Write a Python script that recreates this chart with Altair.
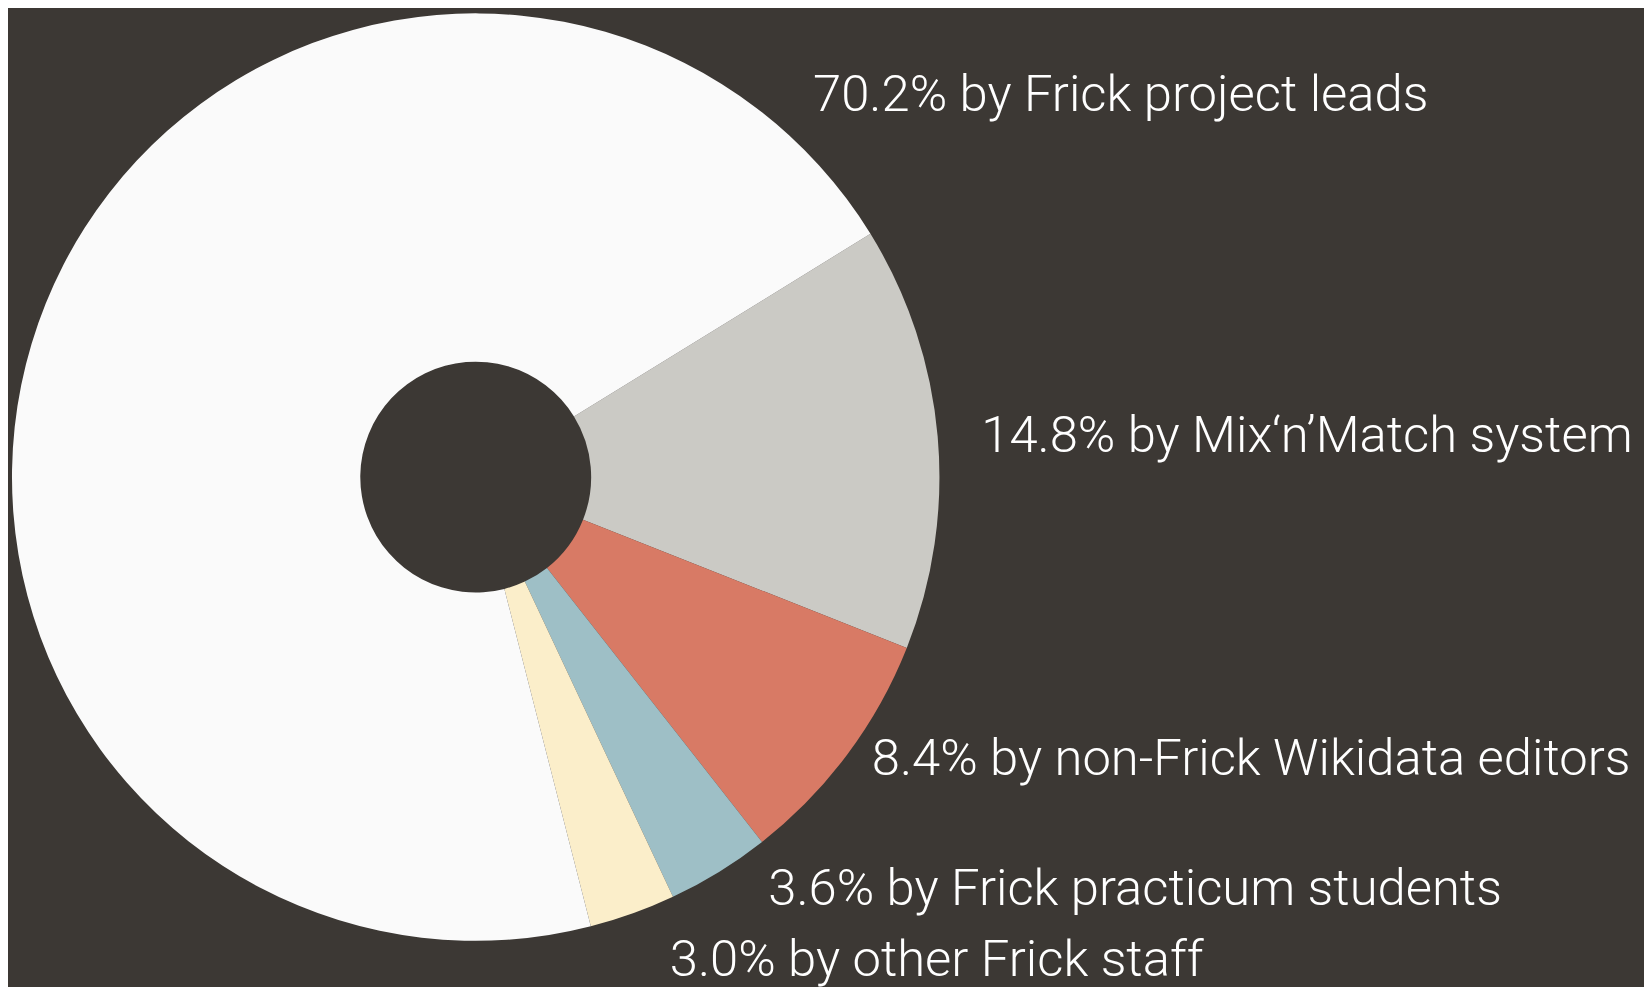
import altair as alt
import pandas as pd

# Data
categories = [
    "Mix\u2018n\u2019Match system",
    "non-Frick Wikidata editors",
    "Frick practicum students",
    "other Frick staff",
    "Frick project leads",
]
shares = [14.8, 8.4, 3.6, 3.0, 70.2]

# Styles / layout
slice_colors = ["#cbcac5", "#d87a65", "#9ebfc6", "#fbeeca", "#fafafa"]
BG = "#3c3834"
START = 1.0184  # radians, clockwise from 12 o'clock
TWO_PI = 6.283185307
CX, CY, R_OUT, R_IN = 470, 469, 466, 116
label_xy = [(978, 444), (868, 768), (764, 899), (665, 970), (809, 101)]

df = pd.DataFrame({
    "category": categories,
    "share": shares,
    "idx": list(range(len(categories))),
    "label": [f"{v:.1f}% by {c}" for c, v in zip(categories, shares)],
})

arcs = alt.Chart(df).mark_arc(outerRadius=R_OUT, innerRadius=R_IN).encode(
    theta=alt.Theta("share:Q", stack=True,
                    scale=alt.Scale(range=[START, START + TWO_PI])),
    order=alt.Order("idx:O"),
    color=alt.Color("category:N", scale=alt.Scale(domain=categories, range=slice_colors),
                    legend=None),
    x=alt.value(CX),
    y=alt.value(CY),
)

layers = [arcs]
for i, (lx, ly) in enumerate(label_xy):
    layers.append(
        alt.Chart(df.iloc[[i]]).mark_text(
            align="left", baseline="alphabetic", font="Roboto", fontSize=51,
            fontWeight=300, color="#ffffff",
        ).encode(text="label:N", x=alt.value(lx), y=alt.value(ly))
    )

chart = alt.layer(*layers).properties(
    width=1644, height=979,
    autosize=alt.AutoSizeParams(type="none"),
    padding=0,
    background=BG,
).configure_view(stroke=None)

chart.save("out.html", embed_options={"renderer": "svg", "actions": False})
